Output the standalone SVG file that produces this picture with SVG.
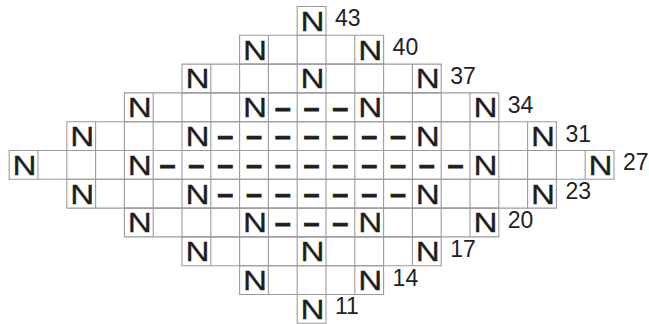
<svg xmlns="http://www.w3.org/2000/svg" width="649" height="324" viewBox="0 0 649 324">
<style>
.g{fill:none;stroke:#9a9a9a;stroke-width:1.1}
.n{font-family:"Liberation Sans",Arial,sans-serif;font-size:28px;fill:#1e1e1e;stroke:#1e1e1e;stroke-width:0.3;text-anchor:middle}
.d{font-family:"Liberation Sans",Arial,sans-serif;font-weight:bold;font-size:28px;fill:#1e1e1e;stroke:#1e1e1e;stroke-width:1.1;text-anchor:middle}
.l{font-family:"Liberation Sans",Arial,sans-serif;font-size:23px;fill:#222}
</style>
<rect width="649" height="324" fill="#fff"/>
<g id="connectors"/>
<g id="row0">
<path class="g" d="M297.2 6.5H326V35.3H297.2Z"/>
<text class="n" x="312.6" y="30.8" textLength="24" lengthAdjust="spacingAndGlyphs">N</text>
<text class="l" x="335" y="26.3">43</text>
</g>
<g id="row1">
<path class="g" d="M239.6 35.3H383.6V64.1H239.6Z M268.4 35.3v28.8m28.8-28.8v28.8m28.8-28.8v28.8m28.8-28.8v28.8"/>
<text class="n" x="255" y="59.6" textLength="24" lengthAdjust="spacingAndGlyphs">N</text>
<text class="n" x="370.2" y="59.6" textLength="24" lengthAdjust="spacingAndGlyphs">N</text>
<text class="l" x="392.6" y="55.1">40</text>
</g>
<g id="row2">
<path class="g" d="M182 64.1H441.2V92.9H182Z M210.8 64.1v28.8m28.8-28.8v28.8m28.8-28.8v28.8m28.8-28.8v28.8m28.8-28.8v28.8m28.8-28.8v28.8m28.8-28.8v28.8m28.8-28.8v28.8"/>
<text class="n" x="197.4" y="88.4" textLength="24" lengthAdjust="spacingAndGlyphs">N</text>
<text class="n" x="312.6" y="88.4" textLength="24" lengthAdjust="spacingAndGlyphs">N</text>
<text class="n" x="427.8" y="88.4" textLength="24" lengthAdjust="spacingAndGlyphs">N</text>
<text class="l" x="450.2" y="83.9">37</text>
</g>
<g id="row3">
<path class="g" d="M124.4 92.9H498.8V121.7H124.4Z M153.2 92.9v28.8m28.8-28.8v28.8m28.8-28.8v28.8m28.8-28.8v28.8m28.8-28.8v28.8m28.8-28.8v28.8m28.8-28.8v28.8m28.8-28.8v28.8m28.8-28.8v28.8m28.8-28.8v28.8m28.8-28.8v28.8m28.8-28.8v28.8"/>
<text class="n" x="139.8" y="117.2" textLength="24" lengthAdjust="spacingAndGlyphs">N</text>
<text class="n" x="255" y="117.2" textLength="24" lengthAdjust="spacingAndGlyphs">N</text>
<text class="n" x="370.2" y="117.2" textLength="24" lengthAdjust="spacingAndGlyphs">N</text>
<text class="n" x="485.4" y="117.2" textLength="24" lengthAdjust="spacingAndGlyphs">N</text>
<text class="d" x="282.8 311.6 340.4" y="116.6">–––</text>
<text class="l" x="507.8" y="112.7">34</text>
</g>
<g id="row4">
<path class="g" d="M66.8 121.7H556.4V150.5H66.8Z M95.6 121.7v28.8m28.8-28.8v28.8m28.8-28.8v28.8m28.8-28.8v28.8m28.8-28.8v28.8m28.8-28.8v28.8m28.8-28.8v28.8m28.8-28.8v28.8m28.8-28.8v28.8m28.8-28.8v28.8m28.8-28.8v28.8m28.8-28.8v28.8m28.8-28.8v28.8m28.8-28.8v28.8m28.8-28.8v28.8m28.8-28.8v28.8"/>
<text class="n" x="82.2" y="146" textLength="24" lengthAdjust="spacingAndGlyphs">N</text>
<text class="n" x="197.4" y="146" textLength="24" lengthAdjust="spacingAndGlyphs">N</text>
<text class="n" x="427.8" y="146" textLength="24" lengthAdjust="spacingAndGlyphs">N</text>
<text class="n" x="543" y="146" textLength="24" lengthAdjust="spacingAndGlyphs">N</text>
<text class="d" x="225.2 254 282.8 311.6 340.4 369.2 398" y="145.4">–––––––</text>
<text class="l" x="565.4" y="141.5">31</text>
</g>
<g id="row5">
<path class="g" d="M9.2 150.5H614V179.3H9.2Z M38 150.5v28.8m28.8-28.8v28.8m28.8-28.8v28.8m28.8-28.8v28.8m28.8-28.8v28.8m28.8-28.8v28.8m28.8-28.8v28.8m28.8-28.8v28.8m28.8-28.8v28.8m28.8-28.8v28.8m28.8-28.8v28.8m28.8-28.8v28.8m28.8-28.8v28.8m28.8-28.8v28.8m28.8-28.8v28.8m28.8-28.8v28.8m28.8-28.8v28.8m28.8-28.8v28.8m28.8-28.8v28.8m28.8-28.8v28.8"/>
<text class="n" x="24.6" y="174.8" textLength="24" lengthAdjust="spacingAndGlyphs">N</text>
<text class="n" x="139.8" y="174.8" textLength="24" lengthAdjust="spacingAndGlyphs">N</text>
<text class="n" x="485.4" y="174.8" textLength="24" lengthAdjust="spacingAndGlyphs">N</text>
<text class="n" x="600.6" y="174.8" textLength="24" lengthAdjust="spacingAndGlyphs">N</text>
<text class="d" x="167.6 196.4 225.2 254 282.8 311.6 340.4 369.2 398 426.8 455.6" y="174.2">–––––––––––</text>
<text class="l" x="623" y="170.3">27</text>
</g>
<g id="row6">
<path class="g" d="M66.8 179.3H556.4V208.1H66.8Z M95.6 179.3v28.8m28.8-28.8v28.8m28.8-28.8v28.8m28.8-28.8v28.8m28.8-28.8v28.8m28.8-28.8v28.8m28.8-28.8v28.8m28.8-28.8v28.8m28.8-28.8v28.8m28.8-28.8v28.8m28.8-28.8v28.8m28.8-28.8v28.8m28.8-28.8v28.8m28.8-28.8v28.8m28.8-28.8v28.8m28.8-28.8v28.8"/>
<text class="n" x="82.2" y="203.6" textLength="24" lengthAdjust="spacingAndGlyphs">N</text>
<text class="n" x="197.4" y="203.6" textLength="24" lengthAdjust="spacingAndGlyphs">N</text>
<text class="n" x="427.8" y="203.6" textLength="24" lengthAdjust="spacingAndGlyphs">N</text>
<text class="n" x="543" y="203.6" textLength="24" lengthAdjust="spacingAndGlyphs">N</text>
<text class="d" x="225.2 254 282.8 311.6 340.4 369.2 398" y="203">–––––––</text>
<text class="l" x="565.4" y="199.1">23</text>
</g>
<g id="row7">
<path class="g" d="M124.4 208.1H498.8V236.9H124.4Z M153.2 208.1v28.8m28.8-28.8v28.8m28.8-28.8v28.8m28.8-28.8v28.8m28.8-28.8v28.8m28.8-28.8v28.8m28.8-28.8v28.8m28.8-28.8v28.8m28.8-28.8v28.8m28.8-28.8v28.8m28.8-28.8v28.8m28.8-28.8v28.8"/>
<text class="n" x="139.8" y="232.4" textLength="24" lengthAdjust="spacingAndGlyphs">N</text>
<text class="n" x="255" y="232.4" textLength="24" lengthAdjust="spacingAndGlyphs">N</text>
<text class="n" x="370.2" y="232.4" textLength="24" lengthAdjust="spacingAndGlyphs">N</text>
<text class="n" x="485.4" y="232.4" textLength="24" lengthAdjust="spacingAndGlyphs">N</text>
<text class="d" x="282.8 311.6 340.4" y="231.8">–––</text>
<text class="l" x="507.8" y="227.9">20</text>
</g>
<g id="row8">
<path class="g" d="M182 236.9H441.2V265.7H182Z M210.8 236.9v28.8m28.8-28.8v28.8m28.8-28.8v28.8m28.8-28.8v28.8m28.8-28.8v28.8m28.8-28.8v28.8m28.8-28.8v28.8m28.8-28.8v28.8"/>
<text class="n" x="197.4" y="261.2" textLength="24" lengthAdjust="spacingAndGlyphs">N</text>
<text class="n" x="312.6" y="261.2" textLength="24" lengthAdjust="spacingAndGlyphs">N</text>
<text class="n" x="427.8" y="261.2" textLength="24" lengthAdjust="spacingAndGlyphs">N</text>
<text class="l" x="450.2" y="256.7">17</text>
</g>
<g id="row9">
<path class="g" d="M239.6 265.7H383.6V294.5H239.6Z M268.4 265.7v28.8m28.8-28.8v28.8m28.8-28.8v28.8m28.8-28.8v28.8"/>
<text class="n" x="255" y="290" textLength="24" lengthAdjust="spacingAndGlyphs">N</text>
<text class="n" x="370.2" y="290" textLength="24" lengthAdjust="spacingAndGlyphs">N</text>
<text class="l" x="392.6" y="285.5">14</text>
</g>
<g id="row10">
<path class="g" d="M297.2 294.5H326V323.3H297.2Z"/>
<text class="n" x="312.6" y="318.8" textLength="24" lengthAdjust="spacingAndGlyphs">N</text>
<text class="l" x="335" y="314.3">11</text>
</g>
</svg>
